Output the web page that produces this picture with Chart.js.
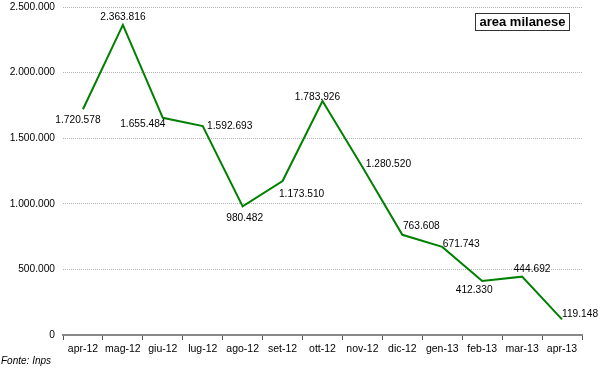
<!DOCTYPE html>
<html>
<head>
<meta charset="utf-8">
<script src="https://cdn.jsdelivr.net/npm/chart.js@4/dist/chart.umd.min.js"></script>
<style>
  html, body { margin: 0; padding: 0; background: #fff; }
  #wrap { width: 600px; height: 370px; }
</style>
</head>
<body>
<div id="wrap"><canvas id="chart" width="600" height="370"></canvas></div>
<script>
// data
const months = ['apr-12', 'mag-12', 'giu-12', 'lug-12', 'ago-12', 'set-12', 'ott-12',
                'nov-12', 'dic-12', 'gen-13', 'feb-13', 'mar-13', 'apr-13'];
const hours = [1720578, 2363816, 1655484, 1592693, 980482, 1173510, 1783926,
               1280520, 763608, 671743, 412330, 444692, 119148];
const yTicks = [0, 500000, 1000000, 1500000, 2000000, 2500000];

const titleText = 'area milanese';
const sourceText = 'Fonte: Inps';

// where each value label sits relative to its point (dx, dy)
const labelOffsets = [
    [-5, 11], [0, -8], [-20, 6], [27, 0], [2, 12], [19, 13], [-5, -4],
    [26, -3], [19, -9], [19, -3], [-8, 9], [10, -7], [18, -5]
];

const FONT = '"Liberation Sans", Arial, sans-serif';
const fmt = v => v.toLocaleString('de-DE');

const valueLabels = {
    id: 'valueLabels',
    afterDatasetsDraw(chart) {
        const ctx = chart.ctx;
        const meta = chart.getDatasetMeta(0);
        ctx.save();
        ctx.font = '10.2px ' + FONT;
        ctx.fillStyle = '#000';
        ctx.textAlign = 'center';
        ctx.textBaseline = 'middle';
        meta.data.forEach((pt, i) => {
            const [dx, dy] = labelOffsets[i];
            ctx.fillText(fmt(hours[i]), pt.x + dx, pt.y + dy);
        });
        ctx.restore();
    },
    afterDraw(chart) {
        const ctx = chart.ctx;
        ctx.save();
        // boxed title
        ctx.font = 'bold 13px ' + FONT;
        ctx.textBaseline = 'middle';
        ctx.textAlign = 'left';
        const w = ctx.measureText(titleText).width;
        ctx.fillStyle = '#fff';
        ctx.fillRect(475.5, 13.5, w + 8, 17);
        ctx.strokeStyle = '#333';
        ctx.lineWidth = 1;
        ctx.strokeRect(475.5, 13.5, w + 8, 17);
        ctx.fillStyle = '#000';
        ctx.fillText(titleText, 479.5, 22.5);
        // source note
        ctx.font = 'italic 10px ' + FONT;
        ctx.fillText(sourceText, 1, 361);
        ctx.restore();
    }
};

new Chart(document.getElementById('chart'), {
    type: 'line',
    data: {
        labels: months,
        datasets: [{
            data: hours,
            borderColor: '#008000',
            borderWidth: 2,
            pointRadius: 0,
            tension: 0,
            fill: false
        }]
    },
    options: {
        responsive: false,
        animation: false,
        layout: { padding: { left: 0, right: 18, top: 7, bottom: 0 } },
        plugins: {
            legend: { display: false },
            tooltip: { enabled: false }
        },
        scales: {
            x: {
                offset: true,
                grid: {
                    offset: true,
                    drawOnChartArea: false,
                    drawTicks: true,
                    tickLength: 5,
                    color: '#555'
                },
                border: { display: true, color: '#888', width: 2 },
                ticks: {
                    color: '#000',
                    padding: 3,
                    maxRotation: 0,
                    autoSkip: false,
                    font: { family: FONT, size: 10.5 }
                },
                afterFit(scale) { scale.height = 35; }
            },
            y: {
                min: 0,
                max: 2500000,
                afterBuildTicks(scale) { scale.ticks = yTicks.map(v => ({ value: v })); },
                grid: {
                    drawTicks: false,
                    color: '#b4b4b4',
                    lineWidth: 1
                },
                border: { display: false, dash: [1, 1] },
                ticks: {
                    color: '#000',
                    padding: 8,
                    callback: v => fmt(v),
                    font: { family: FONT, size: 10.2 }
                },
                afterFit(scale) {
                    scale.width = 63;
                    scale.paddingTop = 0;
                    scale.paddingBottom = 0;
                }
            }
        }
    },
    plugins: [valueLabels]
});
</script>
</body>
</html>
